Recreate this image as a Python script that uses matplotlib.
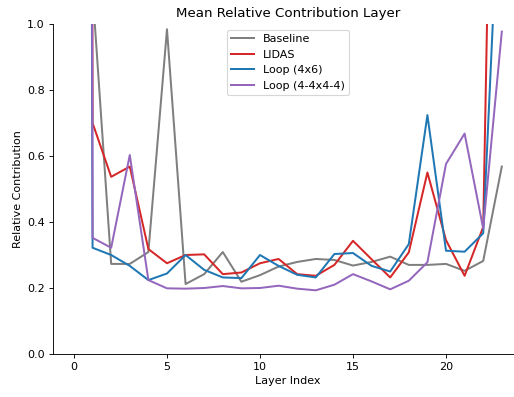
import matplotlib
matplotlib.use("Agg")
import matplotlib.pyplot as plt

layers = list(range(24))

baseline = [30.0, 1.10, 0.273, 0.273, 0.309, 0.984, 0.212, 0.242, 0.309, 0.219,
            0.239, 0.265, 0.279, 0.288, 0.285, 0.268, 0.279, 0.295, 0.270, 0.270,
            0.273, 0.252, 0.282, 0.568]
lidas = [25.0, 0.700, 0.537, 0.568, 0.318, 0.275, 0.300, 0.302, 0.242, 0.247,
         0.275, 0.288, 0.242, 0.237, 0.270, 0.343, 0.287, 0.232, 0.308, 0.550,
         0.345, 0.237, 0.385, 3.4]
loop_4x6 = [20.0, 0.322, 0.300, 0.267, 0.224, 0.244, 0.300, 0.255, 0.232, 0.230,
            0.300, 0.267, 0.240, 0.232, 0.303, 0.306, 0.267, 0.250, 0.333, 0.724,
            0.313, 0.310, 0.366, 1.6]
loop_4_4x4_4 = [35.0, 0.352, 0.322, 0.603, 0.224, 0.199, 0.198, 0.200, 0.206, 0.199,
                0.200, 0.207, 0.198, 0.193, 0.210, 0.242, 0.220, 0.196, 0.222, 0.278,
                0.576, 0.668, 0.380, 0.977]

fig = plt.figure(figsize=(514 / 80, 397 / 80), dpi=80)
ax = fig.add_axes([0.1023, 0.1083, 0.9156, 0.8312])

lw = 1.8
ax.plot(layers, baseline, color="tab:gray", lw=lw, label="Baseline")
ax.plot(layers, lidas, color="tab:red", lw=lw, label="LIDAS")
ax.plot(layers, loop_4x6, color="tab:blue", lw=lw, label="Loop (4x6)")
ax.plot(layers, loop_4_4x4_4, color="tab:purple", lw=lw, label="Loop (4-4x4-4)")

ax.set_xlim(-1.15, 24.15)
ax.set_ylim(0, 1)
ax.set_xticks([0, 5, 10, 15, 20])
ax.set_title("Mean Relative Contribution Layer")
ax.set_xlabel("Layer Index")
ax.set_ylabel("Relative Contribution")
ax.spines["top"].set_visible(False)
ax.spines["right"].set_visible(False)
ax.legend(loc="upper center")

fig.savefig("out.png", dpi=80)
